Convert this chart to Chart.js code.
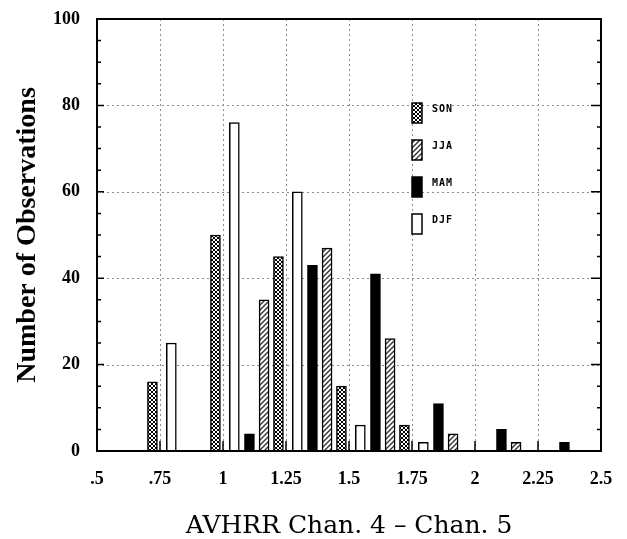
<!DOCTYPE html>
<html>
<head>
<meta charset="utf-8">
<script src="https://cdn.jsdelivr.net/npm/chart.js@4/dist/chart.umd.min.js"></script>
<style>
  body { margin: 0; background: #fff; }
  canvas { display: block; }
</style>
</head>
<body>
<canvas id="myChart" width="627" height="539"></canvas>
<script>
// bins (left edge of each group on the x axis)
var bins = [0.75, 1, 1.25, 1.5, 1.75, 2, 2.25];
var seasons = ['SON', 'JJA', 'MAM', 'DJF'];
// number of observations per bin
var son = [16, 50, 45, 15, 6, 0, 0];
var jja = [0, 35, 47, 26, 4, 2, 0];
var mam = [0, 4, 43, 41, 11, 5, 2];
var djf = [25, 76, 60, 6, 2, 0, 0];
// tick labels
var xTickLabels = ['.5', '.75', '1', '1.25', '1.5', '1.75', '2', '2.25', '2.5'];
var yTickLabels = ['0', '20', '40', '60', '80', '100'];

window.onload = function() {

// make fill patterns
function makePattern(kind) {
  var c = document.createElement('canvas');
  var g = c.getContext('2d');
  if (kind === 'cross') {
    c.width = 4; c.height = 4;
    g.fillStyle = '#fff';
    g.fillRect(0, 0, 4, 4);
    g.fillStyle = '#000';
    for (var i = 0; i < 4; i++) {
      g.fillRect(i, i, 1, 1);
      g.fillRect(3 - i, i, 1, 1);
    }
  } else {
    c.width = 5; c.height = 5;
    g.fillStyle = '#fff';
    g.fillRect(0, 0, 5, 5);
    g.strokeStyle = '#333';
    g.lineWidth = 1.4;
    g.beginPath();
    g.moveTo(-1, 6); g.lineTo(6, -1);
    g.moveTo(-1, 1); g.lineTo(1, -1);
    g.moveTo(4, 6); g.lineTo(6, 4);
    g.stroke();
  }
  return g.createPattern(c, 'repeat');
}

// turn a series into {x, y} points, skipping empty bins
function points(values, shift) {
  var out = [];
  for (var i = 0; i < bins.length; i++) {
    if (values[i] > 0) out.push({ x: bins[i] + shift, y: values[i] });
  }
  return out;
}

// no extra room for the tick labels, keep the plot box fixed
function noPadding(scale) {
  scale.paddingTop = 0;
  scale.paddingBottom = 0;
  scale.paddingLeft = 0;
  scale.paddingRight = 0;
}

var serif = "'DejaVu Serif', serif";
var boldSerif = "'Liberation Serif', serif";

// grid, frame, inward ticks and legend
var framePlugin = {
  id: 'frame',
  beforeDatasetsDraw: function(chart) {
    var ctx = chart.ctx, a = chart.chartArea;
    var xs = chart.scales.x, ys = chart.scales.y;
    ctx.save();
    ctx.strokeStyle = '#8c8c8c';
    ctx.lineWidth = 1;
    ctx.setLineDash([2, 3]);
    ctx.beginPath();
    xs.ticks.forEach(function(t) {
      var px = Math.round(xs.getPixelForValue(t.value)) + 0.5;
      if (px > a.left + 2 && px < a.right - 2) { ctx.moveTo(px, a.top); ctx.lineTo(px, a.bottom); }
    });
    ys.ticks.forEach(function(t) {
      var py = Math.round(ys.getPixelForValue(t.value)) + 0.5;
      if (py > a.top + 2 && py < a.bottom - 2) { ctx.moveTo(a.left, py); ctx.lineTo(a.right, py); }
    });
    ctx.stroke();
    ctx.restore();
  },
  afterDatasetsDraw: function(chart) {
    var ctx = chart.ctx, a = chart.chartArea;
    var xs = chart.scales.x, ys = chart.scales.y;
    ctx.save();
    ctx.strokeStyle = '#000';
    // minor / major ticks on y, both sides
    ctx.lineWidth = 1.5;
    ctx.beginPath();
    for (var v = ys.min; v <= ys.max; v += 5) {
      var py = ys.getPixelForValue(v);
      var major = v % 20 === 0;
      ctx.moveTo(a.left, py); ctx.lineTo(a.left + (major ? 7 : 4), py);
      ctx.moveTo(a.right, py); ctx.lineTo(a.right - (major ? 10 : 4), py);
    }
    // ticks on x
    xs.ticks.forEach(function(t) {
      var px = xs.getPixelForValue(t.value);
      ctx.moveTo(px, a.bottom); ctx.lineTo(px, a.bottom - 10);
    });
    ctx.stroke();
    // frame
    ctx.lineWidth = 2;
    ctx.strokeRect(a.left, a.top, a.right - a.left, a.bottom - a.top);

    // legend, anchored at x = 1.75, y = 80
    var lx = Math.round(xs.getPixelForValue(1.75));
    var ly = Math.round(ys.getPixelForValue(80)) - 2;
    ctx.font = "bold 10px 'DejaVu Sans Mono', monospace";
    ctx.letterSpacing = '1px';
    ctx.textBaseline = 'middle';
    ctx.textAlign = 'left';
    chart.data.datasets.forEach(function(ds, i) {
      var top = ly + i * 37;
      ctx.fillStyle = ds.backgroundColor;
      ctx.fillRect(lx, top, 10, 20);
      ctx.lineWidth = 1.5;
      ctx.strokeRect(lx, top, 10, 20);
      ctx.fillStyle = '#000';
      ctx.fillText(ds.label, lx + 20, top + 6);
    });
    ctx.restore();
  }
};

var crossFill = makePattern('cross');
var hatchFill = makePattern('hatch');

// create bar chart for id myChart
var ctx = document.getElementById('myChart').getContext('2d');
var myChart = new Chart(ctx, {
  type: 'bar',
  data: {
    datasets: [{
      label: seasons[0],
      data: points(son, -0.03),
      backgroundColor: crossFill
    },
    {
      label: seasons[1],
      data: points(jja, 0.163),
      backgroundColor: hatchFill
    },
    {
      label: seasons[2],
      data: points(mam, 0.105),
      backgroundColor: '#000'
    },
    {
      label: seasons[3],
      data: points(djf, 0.045),
      backgroundColor: '#fff'
    }]
  },
  options: {
    responsive: false,
    animation: false,
    datasets: {
      bar: {
        grouped: false,
        borderColor: '#000',
        borderWidth: 1.5,
        barPercentage: 1,
        categoryPercentage: 1,
        maxBarThickness: 10
      }
    },
    layout: { padding: { top: 19, right: 26, left: 0, bottom: 0 } },
    plugins: {
      legend: { display: false },
      tooltip: { enabled: false }
    },
    scales: {
      x: {
        type: 'linear',
        offset: false,
        min: 0.5,
        max: 2.5,
        grid: { display: false, drawTicks: false },
        border: { display: false },
        ticks: {
          stepSize: 0.25,
          padding: 18,
          color: '#000',
          font: { family: boldSerif, size: 18, weight: 'bold' },
          callback: function(value, index) { return xTickLabels[index]; }
        },
        title: {
          display: true,
          text: 'AVHRR Chan. 4 \u2013 Chan. 5',
          color: '#000',
          font: { family: serif, size: 25, weight: 'normal' },
          padding: { top: 0, bottom: -2 }
        },
        afterFit: function(scale) { noPadding(scale); scale.height = 88; }
      },
      y: {
        min: 0,
        max: 100,
        grid: { display: false, drawTicks: false },
        border: { display: false },
        ticks: {
          stepSize: 20,
          padding: 17,
          color: '#000',
          font: { family: boldSerif, size: 18, weight: 'bold' },
          callback: function(value, index) { return yTickLabels[index]; }
        },
        title: {
          display: true,
          text: 'Number of Observations',
          color: '#000',
          font: { family: boldSerif, size: 28, weight: 'bold' },
          padding: { top: 11, bottom: 0 }
        },
        afterFit: function(scale) { noPadding(scale); scale.width = 97; }
      }
    }
  },
  plugins: [framePlugin]
});
};
</script>
</body>
</html>
